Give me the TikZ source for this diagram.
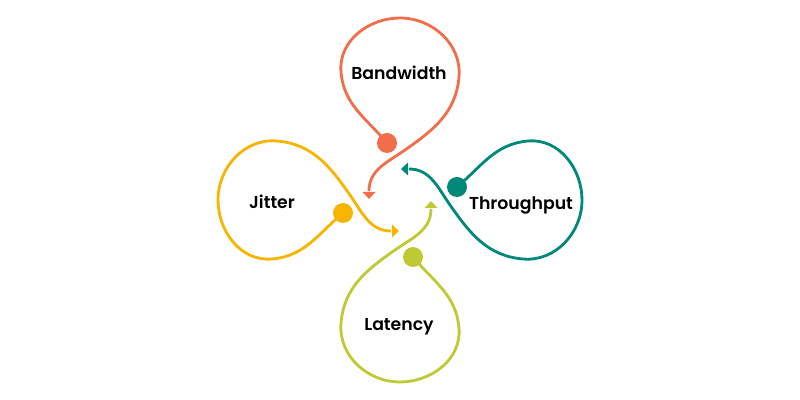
\documentclass[tikz,border=0pt]{standalone}
\usepackage{fontspec}
\setmainfont{Poppins}[BoldFont={Poppins SemiBold}]
\usepackage{tikz}
\definecolor{bworange}{RGB}{242,110,75}
\definecolor{jityellow}{RGB}{247,180,0}
\definecolor{thrteal}{RGB}{0,137,121}
\definecolor{latgreen}{RGB}{190,202,52}
\tikzset{petal/.style={line width=2pt},
  knot/.style={circle,fill,inner sep=0pt,minimum size=0.5cm},
  petaltext/.style={text=black,font=\bfseries\fontsize{12.3}{14}\selectfont}}

\begin{document}
\begin{tikzpicture}[x=0.025cm,y=0.025cm]
\useasboundingbox (-400,-200) rectangle (400,200);
% Bandwidth (top)
\begin{scope}[color=bworange]
\coordinate (bwc) at (-13,57);
\coordinate (bwtip) at (-31,9);
\draw[petal] (bwc) to[out=130,in=-85] (-59,128) to[out=95,in=180] (0,182) to[out=0,in=85] (59,123) to[out=-95,in=35] (5,50) to[out=215,in=90] (bwtip);
\node[knot] (bwdot) at (bwc) {};
\fill (bwtip) ++(-6.5,-1) -- ++(13,0) -- ++(-6.5,-7) -- cycle;
\end{scope}
% Throughput (right)
\begin{scope}[rotate=-90,color=thrteal]
\coordinate (thrc) at (-13,57);
\coordinate (thrtip) at (-31,9);
\draw[petal] (thrc) to[out=130,in=-85] (-59,128) to[out=95,in=180] (0,182) to[out=0,in=85] (59,123) to[out=-95,in=35] (5,50) to[out=215,in=90] (thrtip);
\node[knot] (thrdot) at (thrc) {};
\fill (thrtip) ++(-6.5,-1) -- ++(13,0) -- ++(-6.5,-7) -- cycle;
\end{scope}
% Latency (bottom)
\begin{scope}[rotate=180,color=latgreen]
\coordinate (latc) at (-13,57);
\coordinate (lattip) at (-31,9);
\draw[petal] (latc) to[out=130,in=-85] (-59,128) to[out=95,in=180] (0,182) to[out=0,in=85] (59,123) to[out=-95,in=35] (5,50) to[out=215,in=90] (lattip);
\node[knot] (latdot) at (latc) {};
\fill (lattip) ++(-6.5,-1) -- ++(13,0) -- ++(-6.5,-7) -- cycle;
\end{scope}
% Jitter (left)
\begin{scope}[rotate=90,color=jityellow]
\coordinate (jitc) at (-13,57);
\coordinate (jittip) at (-31,9);
\draw[petal] (jitc) to[out=130,in=-85] (-59,128) to[out=95,in=180] (0,182) to[out=0,in=85] (59,123) to[out=-95,in=35] (5,50) to[out=215,in=90] (jittip);
\node[knot] (jitdot) at (jitc) {};
\fill (jittip) ++(-6.5,-1) -- ++(13,0) -- ++(-6.5,-7) -- cycle;
\end{scope}
% labels
\node[petaltext] (bwname) at (-1,127) {Bandwidth};
\node[petaltext] (thrname) at (121,-5) {Throughput};
\node[petaltext] (latname) at (-1,-127) {Latency};
\node[petaltext] (jitname) at (-128,-2) {Jitter};
\end{tikzpicture}
\end{document}
